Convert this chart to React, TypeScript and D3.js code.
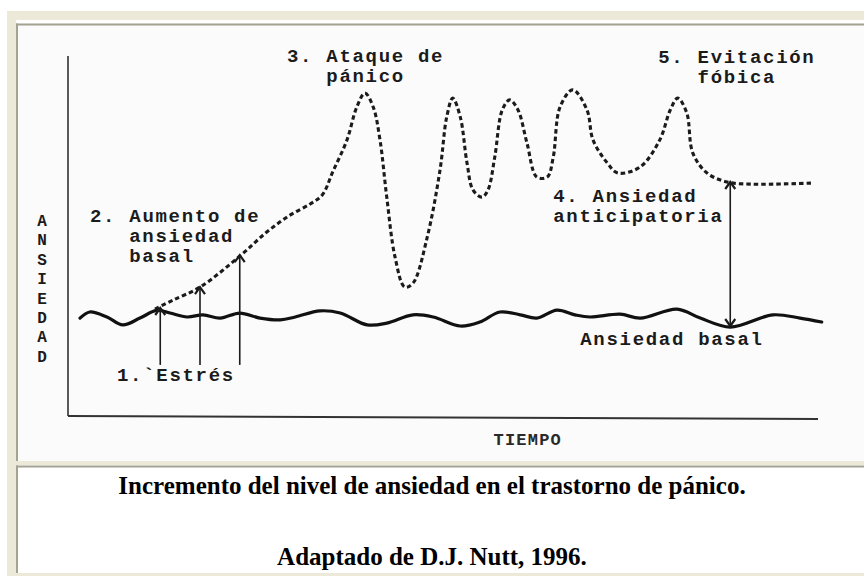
import React from "react";
import * as d3 from "d3";

// tiempo 0-100 (x), nivel de ansiedad 0-100 (y)
const basalTime = [1.6, 2.9, 5.2, 7.3, 9.6, 11.9, 13.6, 15.9, 18.0, 20.3, 22.9, 25.6, 28.3, 30.3, 33.6, 36.3, 39.9, 42.5, 46.0, 48.7, 52.3, 54.9, 57.6, 60.3, 62.5, 65.2, 67.6, 69.6, 73.6, 76.3, 81.2, 84.3, 88.3, 94.0, 97.6, 100.5];
const basalLevel = [27.2, 28.9, 27.5, 25.3, 27.2, 29.4, 28.6, 27.5, 28.1, 27.2, 28.6, 27.2, 26.7, 27.5, 29.2, 28.6, 25.3, 25.8, 28.1, 27.5, 25.0, 26.1, 28.9, 28.1, 27.2, 29.4, 28.1, 27.5, 28.3, 27.2, 29.7, 27.2, 24.7, 28.1, 27.2, 26.1];

const panicTime = [11.6, 14.0, 17.6, 22.9, 26.5, 29.6, 32.3, 33.9, 35.3, 37.2, 38.5, 39.6, 40.7, 41.6, 42.5, 43.6, 44.9, 46.0, 47.9, 49.6, 50.5, 51.3, 52.3, 53.2, 54.0, 55.2, 56.0, 56.9, 57.9, 58.9, 60.0, 61.2, 62.5, 63.9, 64.7, 65.6, 67.3, 69.2, 70.0, 71.9, 73.3, 76.3, 78.9, 80.3, 81.3, 82.5, 83.3, 85.2, 87.9, 91.3, 99.2];
const panicLevel = [29.7, 32.2, 35.8, 44.4, 51.1, 55.8, 58.9, 61.4, 67.8, 76.7, 85.8, 89.7, 85.8, 76.7, 60.8, 44.2, 35.8, 36.9, 49.7, 68.3, 83.1, 88.3, 83.1, 70.3, 62.8, 60.8, 62.8, 71.9, 85.0, 87.8, 85.0, 75.8, 66.4, 66.4, 71.9, 85.8, 90.6, 85.0, 76.7, 70.3, 67.5, 69.2, 76.7, 85.0, 88.3, 84.2, 73.1, 67.5, 65.0, 64.4, 64.7];

// flechas de estrés
const stressTime = [12.3, 17.6, 22.9];
const stressTop = [30.0, 35.8, 44.7];
const stressBottom = 14.2;

// flecha doble de ansiedad anticipatoria
const anticipTime = 88.3;
const anticipTop = 65.0;
const anticipBottom = 25.0;

const labelLines = [
  ["2. Aumento de", "ansiedad", "basal"],
  ["1.`Estrés"],
  ["3. Ataque de", "pánico"],
  ["4. Ansiedad", "anticipatoria"],
  ["5. Evitación", "fóbica"],
  ["Ansiedad basal"],
];
const labelTime = [2.93, 6.53, 29.2, 64.7, 78.7, 68.3];
const labelLevel = [53.9, 9.7, 98.3, 59.4, 98.1, 19.7];
const labelIndent = [3, 0, 3, 0, 3, 0];

const yTitle = ["A", "N", "S", "I", "E", "D", "A", "D"];
const xTitle = "TIEMPO";
const captions = [
  "Incremento del nivel de ansiedad en el trastorno de pánico.",
  "Adaptado de D.J. Nutt, 1996.",
];

const W = 864;
const H = 576;
const mono = "'Liberation Mono', 'Courier New', monospace";
const charW = 13.1;

export default function App() {
  const x = d3.scaleLinear().domain([0, 100]).range([68, 818]);
  const y = d3.scaleLinear().domain([0, 100]).range([416, 56]);

  const line = d3
    .line<[number, number]>()
    .x((d) => x(d[0]))
    .y((d) => y(d[1]))
    .curve(d3.curveCatmullRom.alpha(0.5));

  const basalPath = line(basalTime.map((t, i) => [t, basalLevel[i]])) ?? "";
  const panicPath = line(panicTime.map((t, i) => [t, panicLevel[i]])) ?? "";

  const upHead = (px: number, py: number) => `M${px - 5},${py + 7}L${px},${py}L${px + 5},${py + 7}`;
  const downHead = (px: number, py: number) => `M${px - 5},${py - 7}L${px},${py}L${px + 5},${py - 7}`;

  const ink = "#1b1b1b";

  return (
    <svg
      width={W}
      height={H}
      style={{ position: "absolute", left: 0, top: 0 }}
    >
      {/* marco de página */}
      <rect x={0} y={0} width={W} height={H} fill="#ffffff" />
      <rect x={7} y={11} width={W - 7} height={H - 11} fill="#ECE9D8" />
      <rect x={16} y={20} width={W - 16} height={441} fill="#fbfbfb" />
      <rect x={16} y={20} width={W - 16} height={4} fill="#ffffff" />
      <line x1={16} x2={W} y1={24.5} y2={24.5} stroke="#A4A291" strokeWidth={2} />
      <line x1={17} x2={17} y1={23.5} y2={461} stroke="#A4A291" strokeWidth={2} />
      <rect x={16} y={465} width={W - 16} height={108} fill="#ffffff" />
      <line x1={16} x2={W} y1={466.5} y2={466.5} stroke="#A4A291" strokeWidth={2} />
      <line x1={17} x2={17} y1={465.5} y2={573} stroke="#A4A291" strokeWidth={2} />

      {/* ejes */}
      <line x1={x(0)} x2={x(0)} y1={y(100)} y2={y(0)} stroke="#5a5a5a" strokeWidth={2} />
      <line x1={x(0)} x2={x(100)} y1={y(0)} y2={y(-0.8)} stroke="#333" strokeWidth={2} />

      {/* ansiedad basal */}
      <path d={basalPath} fill="none" stroke="#111" strokeWidth={3.2} strokeLinecap="round" />

      {/* curva de pánico */}
      <path d={panicPath} fill="none" stroke={ink} strokeWidth={3.1} strokeDasharray="4.5 3" />

      {/* flechas de estrés */}
      {stressTime.map((t, i) => (
        <g key={i} stroke={ink} fill="none">
          <line x1={x(t)} x2={x(t)} y1={y(stressBottom)} y2={y(stressTop[i])} strokeWidth={1.6} />
          <path d={upHead(x(t), y(stressTop[i]))} strokeWidth={2.2} />
        </g>
      ))}

      {/* flecha doble anticipatoria */}
      <g stroke={ink} fill="none">
        <line x1={x(anticipTime)} x2={x(anticipTime)} y1={y(anticipTop)} y2={y(anticipBottom)} strokeWidth={1.6} />
        <path d={upHead(x(anticipTime), y(anticipTop))} strokeWidth={2.2} />
        <path d={downHead(x(anticipTime), y(anticipBottom))} strokeWidth={2.2} />
      </g>

      {/* etiquetas */}
      {labelLines.map((lines, i) => (
        <text
          key={i}
          fontFamily={mono}
          fontWeight="bold"
          fontSize={19}
          letterSpacing={1.7}
          fill={ink}
        >
          {lines.map((s, j) => (
            <tspan
              key={j}
              x={x(labelTime[i]) + (j > 0 ? labelIndent[i] * charW : 0)}
              y={y(labelLevel[i]) + j * 20}
            >
              {s}
            </tspan>
          ))}
        </text>
      ))}

      {/* títulos de ejes */}
      {yTitle.map((c, i) => (
        <text
          key={i}
          x={42}
          y={226 + i * 19.4}
          textAnchor="middle"
          fontFamily={mono}
          fontWeight="bold"
          fontSize={16}
          fill={ink}
        >
          {c}
        </text>
      ))}
      <text
        x={x(61.3)}
        y={445}
        textAnchor="middle"
        fontFamily={mono}
        fontWeight="bold"
        fontSize={17}
        letterSpacing={1.2}
        fill="#2a2a2a"
      >
        {xTitle}
      </text>

      {/* pie de figura */}
      {captions.map((c, i) => (
        <text
          key={i}
          x={432}
          y={494 + i * 71}
          textAnchor="middle"
          fontFamily="'Liberation Serif', 'Times New Roman', serif"
          fontWeight="bold"
          fontSize={25}
          fill="#000"
        >
          {c}
        </text>
      ))}
    </svg>
  );
}
